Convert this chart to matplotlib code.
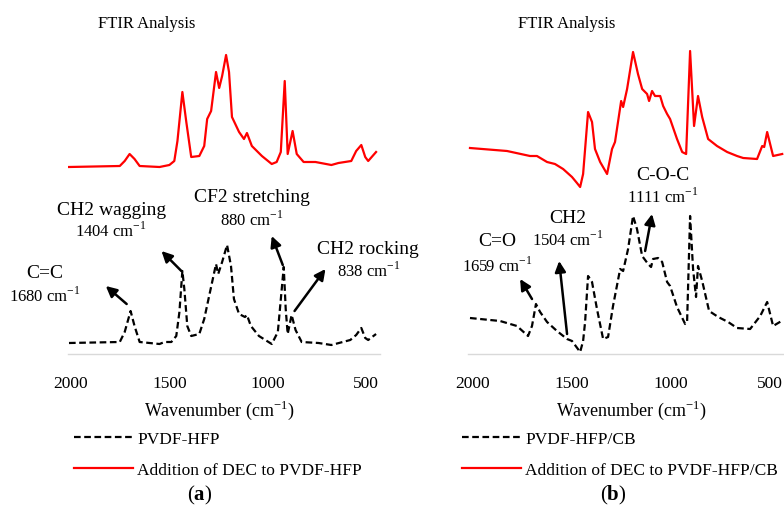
import matplotlib
matplotlib.use("Agg")
import matplotlib.pyplot as plt
from matplotlib.lines import Line2D

plt.rcParams['font.family'] = ['Liberation Serif', 'DejaVu Serif']
plt.rcParams['mathtext.fontset'] = 'custom'
plt.rcParams['mathtext.rm'] = 'Liberation Serif'
plt.rcParams['mathtext.bf'] = 'Liberation Serif:bold'

# spectra (wavenumber in cm-1, offset absorbance in arbitrary units)
wn_a_pvdf = [2010, 1752, 1727, 1697, 1677, 1651, 1550, 1525, 1490, 1465,
             1449, 1434, 1424, 1409, 1389, 1348, 1323, 1298, 1263, 1252,
             1232, 1207, 1187, 1172, 1146, 1116, 1106, 1086, 1045, 980,
             949, 919, 909, 899, 879, 859, 828, 742, 677, 581,
             551, 525, 505, 490, 450]
ab_a_pvdf = [1.1, 1.2, 2.2, 4.3, 2.8, 1.2, 1.0, 1.2, 1.2, 1.8,
             4.2, 8.3, 6.5, 2.8, 1.8, 2.0, 3.5, 5.8, 9.0, 8.0,
             9.2, 10.9, 8.8, 5.5, 4.0, 3.7, 3.9, 2.8, 1.8, 1.0,
             2.2, 8.7, 4.5, 2.0, 3.9, 2.4, 1.2, 1.1, 0.9, 1.4,
             1.9, 2.6, 1.6, 1.4, 2.0]

wn_a_dec = [2010, 1752, 1727, 1702, 1677, 1651, 1550, 1500, 1475, 1459,
            1434, 1414, 1389, 1348, 1323, 1308, 1288, 1263, 1247, 1232,
            1212, 1197, 1182, 1146, 1121, 1106, 1081, 1030, 980, 955,
            934, 914, 899, 874, 853, 818, 758, 677, 641, 576,
            551, 525, 505, 490, 450]
ab_a_dec = [18.7, 18.8, 19.3, 20.0, 19.5, 18.8, 18.7, 18.9, 19.3, 21.3,
            26.2, 23.2, 19.7, 19.8, 20.8, 23.5, 24.3, 28.2, 26.6, 27.8,
            29.9, 28.2, 23.7, 22.2, 21.5, 22.1, 20.8, 19.8, 19.0, 19.2,
            20.2, 27.3, 20.0, 22.3, 20.0, 19.2, 19.2, 18.9, 19.1, 19.3,
            20.3, 20.9, 19.7, 19.3, 20.2]

wn_b_pvdf = [2015, 1863, 1778, 1722, 1702, 1682, 1661, 1626, 1576, 1525,
             1500, 1459, 1444, 1434, 1419, 1399, 1374, 1343, 1318, 1293,
             1257, 1242, 1217, 1192, 1172, 1146, 1116, 1101, 1091, 1066,
             1045, 1020, 1005, 970, 929, 919, 904, 889, 874, 864,
             843, 808, 762, 712, 667, 601, 550, 515, 485, 434]
ab_b_pvdf = [3.6, 3.3, 2.8, 1.8, 2.8, 5.0, 4.2, 3.2, 2.3, 1.5,
             1.3, 0.2, 1.3, 3.2, 7.8, 7.2, 4.5, 1.5, 1.7, 4.8,
             8.5, 8.3, 10.5, 13.8, 12.5, 9.8, 9.0, 8.7, 9.5, 9.6,
             9.2, 7.2, 6.8, 4.7, 3.0, 3.3, 13.8, 8.5, 5.7, 8.8,
             7.3, 4.3, 3.7, 3.2, 2.6, 2.5, 3.8, 5.2, 2.8, 3.4]

wn_b_dec = [2015, 1828, 1712, 1677, 1626, 1586, 1545, 1500, 1475, 1459,
            1444, 1419, 1399, 1384, 1358, 1323, 1298, 1283, 1252, 1242,
            1222, 1192, 1167, 1146, 1121, 1111, 1096, 1081, 1055, 1040,
            1020, 1005, 970, 944, 924, 904, 884, 864, 843, 813,
            768, 717, 667, 636, 566, 540, 530, 515, 485, 439]
ab_b_dec = [20.6, 20.3, 19.8, 19.8, 19.2, 19.0, 18.5, 17.7, 17.1, 16.7,
            18.0, 24.2, 23.2, 20.5, 19.2, 18.0, 20.5, 21.2, 25.3, 24.7,
            26.5, 30.2, 28.0, 26.5, 26.0, 25.3, 26.3, 25.8, 25.8, 24.8,
            24.0, 23.5, 21.5, 20.2, 20.0, 30.3, 22.8, 25.8, 23.7, 21.5,
            20.8, 20.2, 19.8, 19.6, 19.5, 20.8, 20.7, 22.2, 19.8, 20.0]

xticks = [2000, 1500, 1000, 500]
legend_a = ['PVDF-HFP', 'Addition of DEC to PVDF-HFP']
legend_b = ['PVDF-HFP/CB', 'Addition of DEC to PVDF-HFP/CB']

# (group label, wavenumber label, text x, group y, number y, arrow tail, arrow head)
notes_a = [
    ('C=C', '1680', 2135, 8.1, 5.9, (1717, 5.0), (1823, 6.8)),
    ('CH2 wagging', '1404', 1795, 14.5, 12.4, (1439, 8.3), (1540, 10.3)),
    ('CF2 stretching', '880', 1081, 15.8, 13.5, (924, 8.9), (980, 11.8)),
    ('CH2 rocking', '838', 490, 10.6, 8.4, (864, 4.3), (707, 8.5)),
]
notes_b = [
    ('C=O', '1659', 1879, 11.3, 8.9, (1702, 5.5), (1762, 7.5)),
    ('CH2', '1504', 1522, 13.7, 11.5, (1525, 2.0), (1565, 9.3)),
    ('C-O-C', '1111', 1043, 18.0, 15.8, (1131, 10.3), (1096, 14.0)),
]

W, H = 784, 510
fig = plt.figure(figsize=(W / 100, H / 100), dpi=100)
ax_a = fig.add_axes([68 / W, 155 / H, 312 / W, 310 / H])
ax_b = fig.add_axes([468 / W, 155 / H, 316 / W, 310 / H])

dash = (0, (3, 1.6))


def draw_panel(ax, wn_p, ab_p, wn_d, ab_d, xlim, notes):
    ax.plot(wn_p, ab_p, color='black', lw=1.6, linestyle=dash)
    ax.plot(wn_d, ab_d, color='#ff0000', lw=1.6)
    ax.set_xlim(*xlim)
    ax.set_ylim(0, 31)
    ax.set_xticks(xticks)
    ax.set_xticklabels([str(t) for t in xticks])
    ax.set_yticks([])
    for s in ['top', 'left', 'right']:
        ax.spines[s].set_visible(False)
    ax.spines['bottom'].set_color('#d9d9d9')
    ax.spines['bottom'].set_linewidth(1.0)
    ax.tick_params(axis='x', length=0, pad=15, labelsize=12.5)
    for group, num, tx, gy, ny, tail, head in notes:
        ax.text(tx, gy, group, ha='center', va='center', fontsize=14, clip_on=False)
        ax.text(tx, ny, num + r' cm$^{-1}$', ha='center', va='center',
                fontsize=12, clip_on=False)
        ax.annotate('', xy=head, xytext=tail, annotation_clip=False,
                    arrowprops=dict(arrowstyle='-|>', color='black', lw=1.8,
                                    mutation_scale=16, shrinkA=0, shrinkB=0))


draw_panel(ax_a, wn_a_pvdf, ab_a_pvdf, wn_a_dec, ab_a_dec, (2015, 430), notes_a)
draw_panel(ax_b, wn_b_pvdf, ab_b_pvdf, wn_b_dec, ab_b_dec, (2025, 430), notes_b)

for cx in [147, 567]:
    fig.text(cx / W, 1 - 24 / H, 'FTIR Analysis', ha='center', va='center', fontsize=12)

for cx in [219, 631]:
    fig.text(cx / W, 1 - 410 / H, r'Wavenumber (cm$^{-1}$)', ha='center',
             va='center', fontsize=13)

handles = [Line2D([], [], color='black', lw=1.6, linestyle=dash),
           Line2D([], [], color='#ff0000', lw=1.6)]
for x0, labels in [(74, legend_a), (462, legend_b)]:
    fig.legend(handles, labels, loc='upper left',
               bbox_to_anchor=(x0 / W, 1 - 432 / H), frameon=False,
               fontsize=12.5, handlelength=3.4, handletextpad=0.25,
               labelspacing=0.85, borderpad=0, borderaxespad=0)

fig.text(200 / W, 1 - 495 / H, r'($\mathbf{a}$)', ha='center', va='center', fontsize=15)
fig.text(613 / W, 1 - 495 / H, r'($\mathbf{b}$)', ha='center', va='center', fontsize=15)

fig.savefig('out.png', dpi=100)
